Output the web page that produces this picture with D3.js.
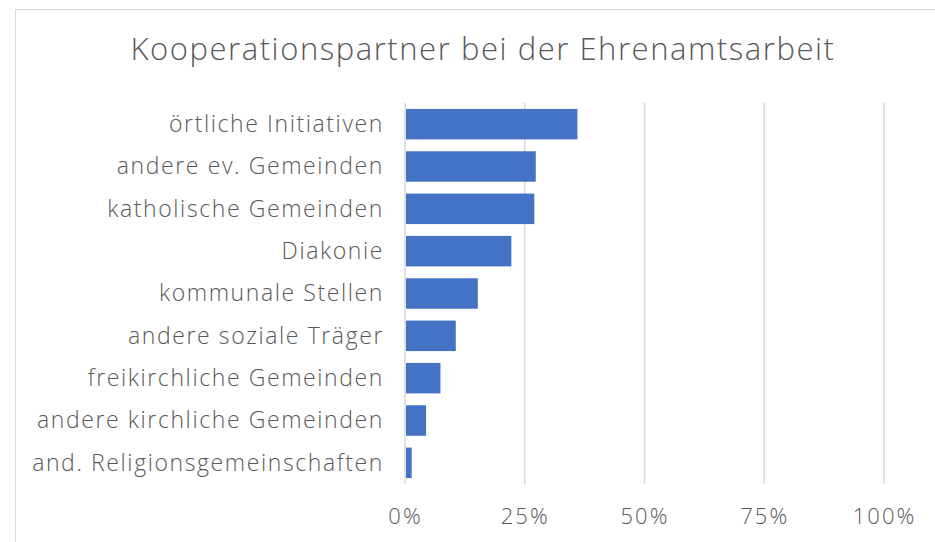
<!DOCTYPE html>
<html>
<head>
<meta charset="utf-8">
<script src="https://cdn.jsdelivr.net/npm/d3@7"></script>
<style>
  body { margin: 0; background: #fff; }
  svg text { font-family: "Open Sans", sans-serif; fill: #595959; }
</style>
</head>
<body>
<svg></svg>
<script>
var width = 935;
var height = 542;

var margin = {
  left: 405,
  top: 103,
  right: 51,
  bottom: 58
};

var title = "Kooperationspartner bei der Ehrenamtsarbeit";

var partners = [
  "örtliche Initiativen",
  "andere ev. Gemeinden",
  "katholische Gemeinden",
  "Diakonie",
  "kommunale Stellen",
  "andere soziale Träger",
  "freikirchliche Gemeinden",
  "andere kirchliche Gemeinden",
  "and. Religionsgemeinschaften"
];

var shares = [0.36, 0.273, 0.27, 0.222, 0.152, 0.106, 0.074, 0.044, 0.014];

var ticks = [0, 0.25, 0.5, 0.75, 1];

var data = partners.map((p, i) => ({label: p, value: shares[i]}));

var svg = d3.select("svg")
  .attr("width", width)
  .attr("height", height);

// chart frame (partly cut off at the right and bottom)
svg.append("rect")
  .attr("x", 15.5)
  .attr("y", 9.5)
  .attr("width", 940)
  .attr("height", 560)
  .attr("fill", "none")
  .attr("stroke", "#d9d9d9");

svg.append("text")
  .attr("x", 483)
  .attr("y", 60)
  .attr("text-anchor", "middle")
  .style("font-size", "31px")
  .style("font-weight", 300)
  .style("letter-spacing", "1.55px")
  .text(title);

var x = d3.scaleLinear()
  .domain([0, 1])
  .range([margin.left, width - margin.right]);

var y = d3.scaleBand()
  .domain(partners)
  .range([margin.top, height - margin.bottom])
  .paddingInner(0.28)
  .paddingOuter(0.14);

// gridlines
svg.append("g")
  .selectAll("line")
  .data(ticks)
  .join("line")
  .attr("x1", d => x(d))
  .attr("x2", d => x(d))
  .attr("y1", margin.top)
  .attr("y2", height - margin.bottom)
  .attr("stroke", "#d9d9d9")
  .attr("stroke-width", 1.5);

// bars
svg.append("g")
  .selectAll("rect")
  .data(data)
  .join("rect")
  .attr("x", x(0) + 1)
  .attr("y", d => y(d.label))
  .attr("width", d => x(d.value) - x(0) - 1)
  .attr("height", y.bandwidth())
  .attr("fill", "#4472c4");

// category labels
var yAxis = d3.axisLeft(y).tickSize(0).tickPadding(21);
var yg = svg.append("g")
  .attr("transform", "translate(" + margin.left + ",0)")
  .call(yAxis);
yg.select(".domain").remove();
yg.selectAll("text")
  .style("font-size", "23px")
  .style("font-weight", 300)
  .style("letter-spacing", "1.6px")
  .attr("dy", "0.34em");

// percent labels
var xAxis = d3.axisBottom(x)
  .tickValues(ticks)
  .tickFormat(d3.format(".0%"))
  .tickSize(0)
  .tickPadding(24);
var xg = svg.append("g")
  .attr("transform", "translate(0," + (height - margin.bottom) + ")")
  .call(xAxis);
xg.select(".domain").remove();
xg.selectAll("text")
  .style("font-size", "22px")
  .style("font-weight", 300)
  .style("letter-spacing", "2px");
</script>
</body>
</html>
